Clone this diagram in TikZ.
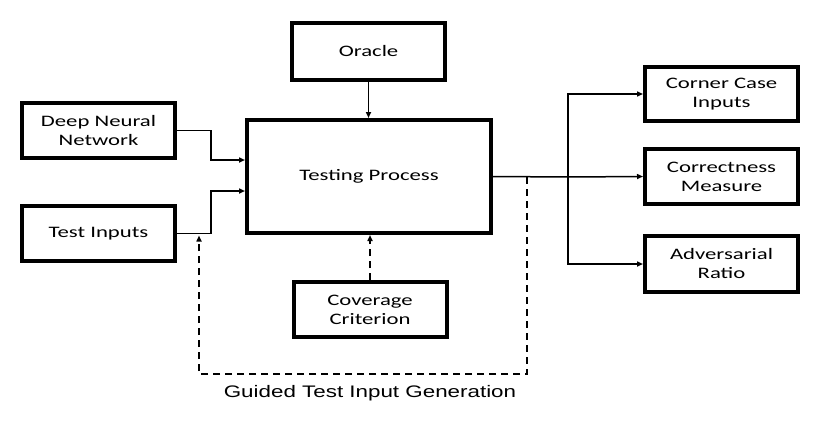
\documentclass[tikz,border=0pt]{standalone}
\usepackage{fontspec}
\setmainfont{Carlito}[FakeStretch=1.42]
\newfontfamily\guidefont{Liberation Sans}[FakeStretch=1.34]
\usetikzlibrary{arrows.meta}
\tikzset{
  block/.style={draw, line width=4pt, minimum width=153pt, minimum height=55pt,
    align=center, inner sep=0pt, font=\fontsize{16}{19}\selectfont},
  link/.style={line width=1.5pt},
  feed/.style={line width=2pt, dash pattern=on 7pt off 5pt},
}
\begin{document}
\begin{tikzpicture}[x=1pt, y=-1pt, >={Triangle[length=6pt,width=5pt]}]
  \useasboundingbox (0,0) rectangle (830,428);
  % blocks
  \node[block, minimum height=57pt] (oracle) at (368.5,51.5) {Oracle};
  \node[block] (dnn) at (98.5,130.5) {Deep Neural\\Network};
  \node[block] (inputs) at (98.5,233.5) {Test Inputs};
  \node[block, minimum width=244pt, minimum height=113pt] (testing) at (369,176.5) {Testing Process};
  \node[block] (cover) at (370,309.5) {Coverage\\Criterion};
  \node[block, minimum height=54pt] (corner) at (721.5,94) {Corner Case\\Inputs};
  \node[block] (correct) at (721.5,176.5) {Correctness\\Measure};
  \node[block, minimum height=56pt] (adv) at (721.5,264) {Adversarial\\Ratio};
  \node[font=\guidefont\fontsize{16.7}{20}\selectfont] (guide) at (370,393) {Guided Test Input Generation};
  \coordinate (split) at (527,177);
  \coordinate (fanout) at (568,177);
  \coordinate (loopbase) at (370,374);
  \coordinate (tap) at (199,235.5);
  % inputs
  \draw[link,->] (oracle.south) -- (oracle.south |- testing.north);
  \draw[link,->] (dnn.east) -| ([xshift=-34pt,yshift=16.5pt]testing.west) -- ([yshift=16.5pt]testing.west);
  \draw[link,->] (inputs.east) -| ([xshift=-34pt,yshift=-14.5pt]testing.west) -- ([yshift=-14.5pt]testing.west);
  % outputs
  \draw[link] (testing.east) -- (fanout);
  \draw[link,->] (fanout) |- (corner.west);
  \draw[link,->] (fanout) -- (correct.west);
  \draw[link,->] (fanout) |- (adv.west);
  % guidance loop
  \draw[feed,->] (cover.north) -- (cover.north |- testing.south);
  \draw[feed,->] (split) |- (loopbase) -| (tap);
\end{tikzpicture}
\end{document}
